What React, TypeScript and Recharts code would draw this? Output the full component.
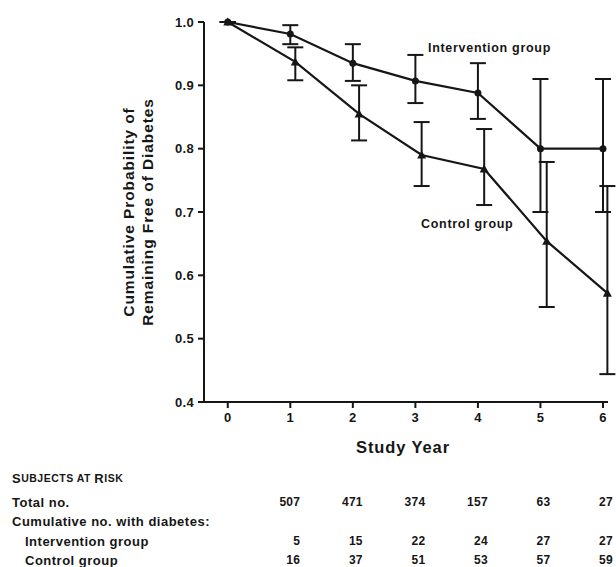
import React from 'react';
import { ErrorBar, Line, LineChart, XAxis, YAxis } from 'recharts';

// Kaplan-Meier style curves
const interventionYears = [0, 1, 2, 3, 4, 5, 6];
const interventionProb = [1.0, 0.981, 0.935, 0.907, 0.888, 0.8, 0.8];
const interventionLow = [1.0, 0.965, 0.907, 0.872, 0.847, 0.7, 0.7];
const interventionHigh = [1.0, 0.995, 0.965, 0.948, 0.935, 0.91, 0.91];

// control points sit slightly right of the year ticks in the original
const controlYears = [0, 1.08, 2.1, 3.1, 4.1, 5.1, 6.07];
const controlProb = [1.0, 0.937, 0.855, 0.79, 0.768, 0.654, 0.572];
const controlLow = [1.0, 0.908, 0.813, 0.741, 0.711, 0.55, 0.444];
const controlHigh = [1.0, 0.96, 0.9, 0.842, 0.831, 0.779, 0.741];

const xTicks = [0, 1, 2, 3, 4, 5, 6];
const yTicks = [0.4, 0.5, 0.6, 0.7, 0.8, 0.9, 1.0];

// subjects-at-risk table, years 1..6
const tableYears = [1, 2, 3, 4, 5, 6];
const totalNo = [507, 471, 374, 157, 63, 27];
const interventionCum = [5, 15, 22, 24, 27, 27];
const controlCum = [16, 37, 51, 53, 57, 59];

const W = 616;
const H = 567;
const X_DOMAIN: [number, number] = [-0.38, 6.08];
const PLOT_LEFT = 204;
const PLOT_RIGHT = 608;
const PLOT_TOP = 22;
const PLOT_BOTTOM = 402;

const build = (xs: number[], ys: number[], lo: number[], hi: number[]) =>
  xs.map((x, i) => ({ x, y: ys[i], err: [ys[i] - lo[i], hi[i] - ys[i]] }));

const interventionData = build(interventionYears, interventionProb, interventionLow, interventionHigh);
const controlData = build(controlYears, controlProb, controlLow, controlHigh);

const FONT = '"Liberation Sans", Arial, sans-serif';
const INK = '#161616';

const xPos = (v: number) =>
  PLOT_LEFT + ((v - X_DOMAIN[0]) / (X_DOMAIN[1] - X_DOMAIN[0])) * (PLOT_RIGHT - PLOT_LEFT);

const Circle = (props: any) => {
  const { cx, cy, index } = props;
  return <circle key={`c${index}`} cx={cx} cy={cy} r={3.5} fill={INK} />;
};

const Triangle = (props: any) => {
  const { cx, cy, index } = props;
  const s = 4.5;
  return (
    <path
      key={`t${index}`}
      d={`M${cx},${cy - s} L${cx + s},${cy + s * 0.8} L${cx - s},${cy + s * 0.8} Z`}
      fill={INK}
    />
  );
};

const tickStyle = { fontFamily: FONT, fontSize: 13, fontWeight: 700, fill: INK, letterSpacing: 0.3 };

export default function App() {
  const rowText = { fontFamily: FONT, fontSize: 13, fontWeight: 700, fill: INK, letterSpacing: 0.5 } as const;
  const numText = { fontFamily: FONT, fontSize: 12, fontWeight: 700, fill: INK, letterSpacing: 0.3 } as const;
  return (
    <div style={{ position: 'absolute', left: 0, top: 0, width: W, height: H, background: '#fff' }}>
      <LineChart
        width={W}
        height={H}
        margin={{ top: PLOT_TOP, right: W - PLOT_RIGHT, bottom: H - PLOT_BOTTOM - 30, left: PLOT_LEFT - 60 }}
      >
        <XAxis
          type="number"
          dataKey="x"
          domain={X_DOMAIN}
          ticks={xTicks}
          height={30}
          tickSize={6}
          tickMargin={5}
          stroke={INK}
          strokeWidth={2}
          tick={tickStyle}
          allowDuplicatedCategory={false}
        />
        <YAxis
          type="number"
          domain={[0.4, 1.0]}
          ticks={yTicks}
          width={60}
          tickSize={6}
          tickMargin={4}
          stroke={INK}
          strokeWidth={2}
          tick={tickStyle}
          tickFormatter={(v: number) => v.toFixed(1)}
        />
        <Line
          data={interventionData}
          dataKey="y"
          stroke={INK}
          strokeWidth={2.2}
          dot={Circle}
          isAnimationActive={false}
        >
          <ErrorBar dataKey="err" direction="y" width={8} stroke={INK} strokeWidth={2} />
        </Line>
        <Line
          data={controlData}
          dataKey="y"
          stroke={INK}
          strokeWidth={2.2}
          dot={Triangle}
          isAnimationActive={false}
        >
          <ErrorBar dataKey="err" direction="y" width={8} stroke={INK} strokeWidth={2} />
        </Line>
      </LineChart>

      <svg width={W} height={H} style={{ position: 'absolute', left: 0, top: 0, pointerEvents: 'none' }}>
        <g fontFamily={FONT} fontWeight={700} fill={INK}>
          <text x={128} y={212} fontSize={15.5} letterSpacing={0.9} textAnchor="middle" dominantBaseline="central" transform="rotate(-90 128 212)">
            Cumulative Probability of
          </text>
          <text x={147} y={212} fontSize={15.5} letterSpacing={0.9} textAnchor="middle" dominantBaseline="central" transform="rotate(-90 147 212)">
            Remaining Free of Diabetes
          </text>
          <text x={403} y={447} fontSize={16.5} letterSpacing={0.9} textAnchor="middle" dominantBaseline="central">
            Study Year
          </text>
          <text x={428} y={48} fontSize={12.5} letterSpacing={0.7} dominantBaseline="central">
            Intervention group
          </text>
          <text x={421} y={224} fontSize={12.5} letterSpacing={0.7} dominantBaseline="central">
            Control group
          </text>
        </g>

        <g>
          <text x={12} y={478} dominantBaseline="central" {...rowText}>
            <tspan fontSize={13}>S</tspan>
            <tspan fontSize={10.5}>UBJECTS AT </tspan>
            <tspan fontSize={13}>R</tspan>
            <tspan fontSize={10.5}>ISK</tspan>
          </text>
          <text x={12} y={502} dominantBaseline="central" {...rowText}>Total no.</text>
          <text x={12} y={521} dominantBaseline="central" {...rowText}>Cumulative no. with diabetes:</text>
          <text x={25} y={541} dominantBaseline="central" {...rowText}>Intervention group</text>
          <text x={25} y={560} dominantBaseline="central" {...rowText}>Control group</text>
          {tableYears.map((yr, i) => (
            <g key={yr}>
              <text x={xPos(yr) + 10} y={502} textAnchor="end" dominantBaseline="central" {...numText}>{totalNo[i]}</text>
              <text x={xPos(yr) + 10} y={541} textAnchor="end" dominantBaseline="central" {...numText}>{interventionCum[i]}</text>
              <text x={xPos(yr) + 10} y={560} textAnchor="end" dominantBaseline="central" {...numText}>{controlCum[i]}</text>
            </g>
          ))}
        </g>
      </svg>
    </div>
  );
}
